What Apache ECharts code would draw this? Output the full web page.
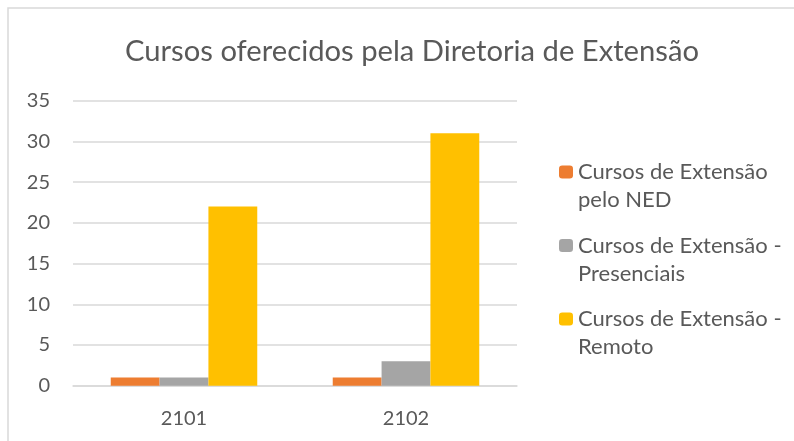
<!DOCTYPE html>
<html>
<head>
<meta charset="utf-8">
<script src="https://cdn.jsdelivr.net/npm/echarts@6/dist/echarts.min.js"></script>
<style>
  html, body { margin: 0; padding: 0; background: #fff; }
  #chart { width: 794px; height: 441px; }
</style>
</head>
<body>
<div id="chart"></div>
<script>
// dados do gráfico
var categorias = ['2101', '2102'];
var nomesSeries = [
  'Cursos de Extensão pelo NED',
  'Cursos de Extensão - Presenciais',
  'Cursos de Extensão - Remoto'
];
var legendaLinhas = {
  'Cursos de Extensão pelo NED': 'Cursos de Extensão\npelo NED',
  'Cursos de Extensão - Presenciais': 'Cursos de Extensão -\nPresenciais',
  'Cursos de Extensão - Remoto': 'Cursos de Extensão -\nRemoto'
};
var valoresNED = [1, 1];
var valoresPresenciais = [1, 3];
var valoresRemoto = [22, 31];
var cores = ['#ED7D31', '#A5A5A5', '#FFC000'];

var fonte = 'Lato';
var corTexto = '#595959';

var myChart = echarts.init(document.getElementById('chart'));

var option = {
  animation: false,
  color: cores,
  textStyle: { fontFamily: fonte },
  title: {
    text: 'Cursos oferecidos pela Diretoria de Extensão',
    left: 407,
    textAlign: 'center',
    top: 32,
    textStyle: { fontFamily: fonte, fontSize: 29.2, fontWeight: 'normal', color: corTexto }
  },
  graphic: [{
    // moldura do gráfico (só aparecem as bordas de cima e da esquerda)
    type: 'rect',
    shape: { x: 8, y: 8, width: 800, height: 450 },
    style: { fill: 'none', stroke: '#D9D9D9', lineWidth: 1.5 },
    silent: true
  }],
  legend: {
    orient: 'vertical',
    left: 559,
    top: 130,
    padding: 0,
    itemWidth: 14,
    itemHeight: 13,
    itemGap: -10.5,
    data: nomesSeries,
    // linha vazia no começo para o ícone ficar alinhado com a primeira linha
    formatter: function (name) { return '\n' + legendaLinhas[name]; },
    textStyle: { fontFamily: fonte, fontSize: 22, color: corTexto, lineHeight: 28 }
  },
  grid: { left: 73, right: 277, top: 100.7, bottom: 55.3 },
  xAxis: {
    type: 'category',
    data: categorias,
    axisLine: { lineStyle: { color: '#D9D9D9', width: 1.5 } },
    axisTick: { show: false },
    axisLabel: { fontFamily: fonte, fontSize: 20, color: corTexto, margin: 23 }
  },
  yAxis: {
    type: 'value',
    min: 0,
    max: 35,
    interval: 5,
    axisLine: { show: false },
    axisTick: { show: false },
    axisLabel: { fontFamily: fonte, fontSize: 20, color: corTexto, margin: 23 },
    splitLine: { lineStyle: { color: '#D9D9D9', width: 1.5 } }
  },
  series: [
    { name: nomesSeries[0], type: 'bar', data: valoresNED, barGap: '0%', barCategoryGap: '34%' },
    { name: nomesSeries[1], type: 'bar', data: valoresPresenciais, barGap: '0%', barCategoryGap: '34%' },
    { name: nomesSeries[2], type: 'bar', data: valoresRemoto, barGap: '0%', barCategoryGap: '34%' }
  ]
};

myChart.setOption(option);
</script>
</body>
</html>
